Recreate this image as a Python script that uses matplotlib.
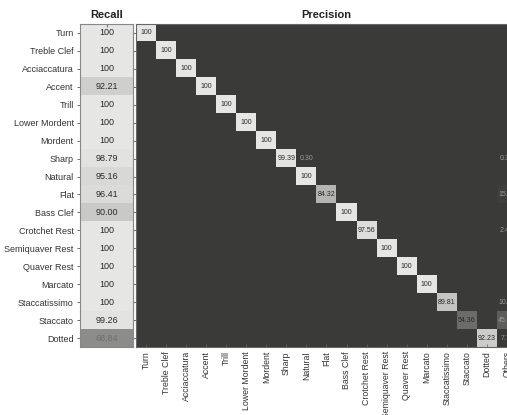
import numpy as np
import matplotlib
matplotlib.use("Agg")
import matplotlib.pyplot as plt
from matplotlib.colors import LinearSegmentedColormap, Normalize, PowerNorm

plt.rcParams['font.family'] = ['Liberation Sans', 'DejaVu Sans']

classes = ["Turn", "Treble Clef", "Acciaccatura", "Accent", "Trill", "Lower Mordent",
           "Mordent", "Sharp", "Natural", "Flat", "Bass Clef", "Crotchet Rest",
           "Semiquaver Rest", "Quaver Rest", "Marcato", "Staccatissimo", "Staccato", "Dotted"]
pred_columns = classes + ["Others"]

recall = [100, 100, 100, 92.21, 100, 100, 100, 98.79, 95.16, 96.41, 90.00,
          100, 100, 100, 100, 100, 99.26, 68.84]

precision_diag = [100, 100, 100, 100, 100, 100, 100, 99.39, 100, 84.32, 100,
                  97.56, 100, 100, 100, 89.81, 54.36, 92.23]
precision_others = [0, 0, 0, 0, 0, 0, 0, 0.30, 0, 15.68, 0, 2.44, 0, 0, 0,
                    10.19, 45.64, 7.77]
extra_cells = [("Sharp", "Natural", 0.30)]

n = len(classes)
P = np.zeros((n, n + 1))
for i, v in enumerate(precision_diag):
    P[i, i] = v
P[:, n] = precision_others
for r, c, v in extra_cells:
    P[classes.index(r), pred_columns.index(c)] = v

cmap = LinearSegmentedColormap.from_list("g", ["#3a3b38", "#e6e6e4"])

fig = plt.figure(figsize=(5.07, 4.15), dpi=100)
fig.patch.set_facecolor("white")

bottom = 1 - 347 / 415
height = 323 / 415

# Recall axis
axr = fig.add_axes([80 / 507, bottom, 53 / 507, height])
R = np.array(recall).reshape(-1, 1)
rnorm = Normalize(vmin=40, vmax=100)
axr.imshow(R, cmap=cmap, norm=rnorm, aspect="auto")
for i, v in enumerate(recall):
    txt = "100" if v == 100 else f"{v:.2f}"
    b = rnorm(v)
    axr.text(0, i, txt, ha="center", va="center", fontsize=6.5,
             color="#2a2a2a" if b > 0.6 else "#6f6f6f")
axr.set_yticks(range(n))
axr.set_yticklabels(classes, fontsize=6.5, color="#333333")
axr.set_xticks([0])
axr.set_xticklabels([])
axr.tick_params(axis="y", direction="out", length=2.5, width=0.6, colors="#555555",
                labelcolor="#333333", right=True, pad=2)
axr.tick_params(axis="x", direction="in", length=2, top=True, bottom=False, colors="#777777")
axr.set_title("Recall", fontsize=8, fontweight="bold", pad=4, color="#222222")
for s in axr.spines.values():
    s.set_color("#888888")
    s.set_linewidth(0.8)

# Precision axis
axp = fig.add_axes([136 / 507, bottom, 381 / 507, height])
pnorm = PowerNorm(gamma=2, vmin=0, vmax=100)
axp.imshow(P, cmap=cmap, norm=pnorm, aspect="auto")
for i in range(n):
    for j in range(n + 1):
        v = P[i, j]
        if v == 0:
            continue
        txt = "100" if v == 100 else f"{v:.2f}"
        col = "#2a2a2a" if v >= 50 else "#9a9a96"
        axp.text(j, i, txt, ha="center", va="center", fontsize=5, color=col)
axp.set_xticks(range(n + 1))
axp.set_xticklabels(pred_columns, rotation=90, fontsize=6.3, color="#333333")
axp.set_yticks([])
axp.tick_params(axis="x", direction="in", length=2, width=0.5, colors="#666666",
                labelcolor="#333333", pad=3)
axp.set_title("Precision", fontsize=8, fontweight="bold", pad=4, color="#222222")
for s in axp.spines.values():
    s.set_color("#666666")
    s.set_linewidth(0.8)

fig.savefig("out.png", dpi=100)
